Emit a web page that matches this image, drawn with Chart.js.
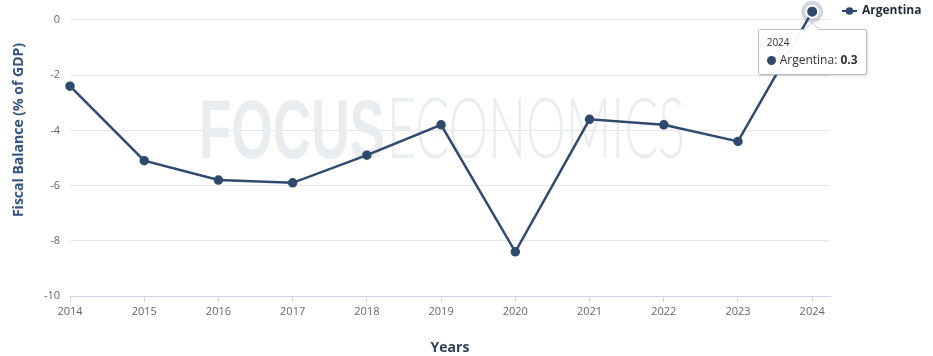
<!DOCTYPE html>
<html>
<head>
<meta charset="utf-8">
<script src="https://cdn.jsdelivr.net/npm/chart.js@4.4.1/dist/chart.umd.min.js"></script>
<style>
  html, body { margin: 0; padding: 0; background: #fff; }
  #wrap { position: relative; width: 933px; height: 356px; }
  #tip {
    position: absolute; display: none; pointer-events: none;
    background: rgba(255,255,255,0.96); border: 1px solid #b8bcc2; border-radius: 2px;
    box-shadow: 1px 1px 3px rgba(0,0,0,0.12);
    font-family: 'Open Sans', sans-serif; color: #333; padding: 6px 8px 6px 8px;
    white-space: nowrap;
  }
  #tip:before {
    content: ''; position: absolute; left: 50%; top: -8px; margin-left: -8px;
    border-left: 8px solid transparent; border-right: 8px solid transparent;
    border-bottom: 8px solid #b8bcc2;
  }
  #tip:after {
    content: ''; position: absolute; left: 50%; top: -7px; margin-left: -7px;
    border-left: 7px solid transparent; border-right: 7px solid transparent;
    border-bottom: 7px solid #fff;
  }
  #tip .t { font-size: 10px; line-height: 13px; }
  #tip .b { font-size: 12px; line-height: 17px; margin-top: 2px; }
  #tip .dot { display: inline-block; width: 9px; height: 9px; border-radius: 50%; background: #2f4a6d; margin-right: 4px; vertical-align: -1px; }
</style>
</head>
<body>
<div id="wrap">
  <canvas id="chart" width="933" height="356"></canvas>
  <div id="tip"></div>
</div>
<script>
// Datos
const years = [2014, 2015, 2016, 2017, 2018, 2019, 2020, 2021, 2022, 2023, 2024];
const argentina = [-2.4, -5.1, -5.8, -5.9, -4.9, -3.8, -8.4, -3.6, -3.8, -4.4, 0.3];
const yTicks = [0, -2, -4, -6, -8, -10];

const LINE = '#2f4a6d';
const FONT = "'Open Sans', sans-serif";

// Marca de agua "FOCUSECONOMICS"
const watermark = {
  id: 'watermark',
  beforeDatasetsDraw(chart) {
    const ctx = chart.ctx;
    ctx.save();
    ctx.fillStyle = '#eaedf0';
    ctx.textBaseline = 'alphabetic';
    const base = 158;
    const drawFit = (text, font, x0, w) => {
      ctx.font = font;
      const m = ctx.measureText(text).width;
      ctx.save();
      ctx.translate(x0, base);
      ctx.scale(w / m, 1);
      ctx.fillText(text, 0, 0);
      ctx.restore();
    };
    drawFit('FOCUS', "bold 84px 'Liberation Sans Narrow', 'Liberation Sans', sans-serif", 199, 186);
    drawFit('ECONOMICS', "300 84px 'Lato', 'Liberation Sans Narrow', sans-serif", 387, 298);
    ctx.restore();
  }
};

// Leyenda, título del eje Y y halo del punto activo
const extras = {
  id: 'extras',
  beforeDatasetsDraw(chart) {
    const el = chart.getDatasetMeta(0).data[years.length - 1];
    const ctx = chart.ctx;
    ctx.save();
    ctx.beginPath();
    ctx.arc(el.x, el.y, 11, 0, Math.PI * 2);
    ctx.fillStyle = 'rgba(47,74,109,0.22)';
    ctx.fill();
    ctx.restore();
  },
  afterDraw(chart) {
    const ctx = chart.ctx;
    ctx.save();
    ctx.strokeStyle = LINE;
    ctx.lineWidth = 2;
    ctx.beginPath();
    ctx.moveTo(842, 11);
    ctx.lineTo(857, 11);
    ctx.stroke();
    ctx.beginPath();
    ctx.arc(849.5, 11, 3.8, 0, Math.PI * 2);
    ctx.fillStyle = LINE;
    ctx.fill();
    ctx.font = "bold 12px " + FONT;
    ctx.fillStyle = '#1f2b3a';
    ctx.textBaseline = 'middle';
    ctx.fillText('Argentina', 862, 11);

    // título del eje Y
    ctx.translate(19, 130);
    ctx.rotate(-Math.PI / 2);
    ctx.font = "bold 14px " + FONT;
    ctx.fillStyle = '#34557f';
    ctx.textAlign = 'center';
    ctx.fillText('Fiscal Balance (% of GDP)', 0, 0);
    ctx.restore();
  }
};

const externalTip = (context) => {
  const tip = document.getElementById('tip');
  const t = context.tooltip;
  if (!t || t.opacity === 0 || !t.dataPoints || !t.dataPoints.length) { tip.style.display = 'none'; return; }
  const dp = t.dataPoints[0];
  tip.innerHTML = '<div class="t">' + years[dp.dataIndex] + '</div>' +
    '<div class="b"><span class="dot"></span>' + dp.dataset.label + ': <b>' + dp.parsed.y + '</b></div>';
  tip.style.display = 'block';
  const w = tip.offsetWidth;
  tip.style.left = (dp.element.x - w / 2) + 'px';
  tip.style.top = (dp.element.y + 17) + 'px';
};

const chart = new Chart(document.getElementById('chart'), {
  type: 'line',
  data: {
    datasets: [{
      label: 'Argentina',
      data: years.map((y, i) => ({ x: y, y: argentina[i] })),
      borderColor: LINE,
      backgroundColor: LINE,
      borderWidth: 2.5,
      pointRadius: 3.5,
      pointHoverRadius: 6,
      pointHoverBorderWidth: 2,
      pointHoverBorderColor: '#ffffff',
      pointHoverBackgroundColor: LINE,
      tension: 0,
      clip: false
    }]
  },
  options: {
    responsive: false,
    animation: false,
    events: [],
    layout: { autoPadding: false, padding: { top: 10, right: 103, left: 0, bottom: 0 } },
    plugins: {
      legend: { display: false },
      tooltip: { enabled: false, external: externalTip }
    },
    scales: {
      x: {
        type: 'linear',
        min: 2014,
        max: 2024.24,
        afterBuildTicks: (scale) => { scale.ticks = years.map(v => ({ value: v })); },
        afterFit: (scale) => { scale.height = 60; },
        grid: { drawOnChartArea: false, drawTicks: true, tickLength: 6, color: '#ccd6eb' },
        border: { display: true, color: '#ccd6eb' },
        ticks: {
          color: '#666',
          font: { family: FONT, size: 11 },
          padding: 3,
          maxRotation: 0,
          autoSkip: false,
          callback: (v) => String(v)
        },
        title: {
          display: true,
          text: 'Years',
          color: '#2e3f55',
          font: { family: FONT, size: 14, weight: 'bold' },
          padding: { top: 0, bottom: 0 }
        }
      },
      y: {
        min: -10,
        max: 0.36,
        afterBuildTicks: (scale) => { scale.ticks = yTicks.map(v => ({ value: v })); },
        afterFit: (scale) => { scale.width = 70; },
        grid: { color: '#e6e6e6', drawTicks: true, tickLength: 8, tickColor: 'rgba(0,0,0,0)' },
        border: { display: false },
        ticks: {
          color: '#666',
          font: { family: FONT, size: 11 },
          padding: 2
        },
        title: { display: false }
      }
    }
  },
  plugins: [watermark, extras]
});

const last = years.length - 1;
const el = chart.getDatasetMeta(0).data[last];
chart.setActiveElements([{ datasetIndex: 0, index: last }]);
chart.tooltip.setActiveElements([{ datasetIndex: 0, index: last }], { x: el.x, y: el.y });
chart.update();
</script>
</body>
</html>
